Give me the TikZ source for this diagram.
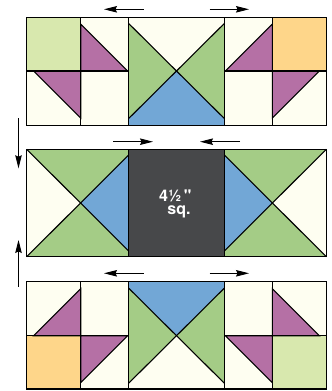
\documentclass[tikz,border=0pt]{standalone}
\usepackage{fontspec}
\setmainfont{TeX Gyre Heros}
\usetikzlibrary{arrows.meta}
\definecolor{cream}{HTML}{FEFEF1}
\definecolor{lightgreen}{HTML}{D8E8AE}
\definecolor{leafgreen}{HTML}{A4CC86}
\definecolor{skyblue}{HTML}{72A7D6}
\definecolor{plum}{HTML}{B570A5}
\definecolor{apricot}{HTML}{FED68A}
\definecolor{charcoal}{HTML}{47484A}
\begin{document}
\begin{tikzpicture}[x=1pt,y=-1pt,line join=miter,
  seam/.style={draw=black,line width=1.1pt},
  patch/.style={fill=#1},
  movearrow/.style={-{Stealth[length=13pt,width=6.5pt,inset=1.5pt]},line width=0.9pt},
  sizetext/.style={text=white,font=\fontsize{16}{16}\selectfont\bfseries,inner sep=0pt,anchor=base}]
\useasboundingbox (0,0) rectangle (332,391);

% ================= TOP BLOCK =================
\fill[cream] (26.7,17.3) rectangle (326.3,125.7);
\fill[lightgreen] (26.7,17.3) rectangle (80.7,71);
\fill[apricot] (272.3,17.3) rectangle (326.3,71);
\filldraw[patch=plum,seam] (33.7,71) -- (80.7,71) -- (80.7,118) -- cycle;
\filldraw[patch=plum,seam] (80.7,24) -- (80.7,71) -- (127.7,71) -- cycle;
\filldraw[patch=plum,seam] (272.3,24) -- (272.3,71) -- (225.3,71) -- cycle;
\filldraw[patch=plum,seam] (272.3,71) -- (319.3,71) -- (272.3,118) -- cycle;
\fill[leafgreen] (128.7,23.5) -- (176.5,71) -- (128.7,118.5) -- cycle;
\fill[leafgreen] (224.3,23.5) -- (176.5,71) -- (224.3,118.5) -- cycle;
\fill[skyblue] (128.7,118.5) -- (176.5,71) -- (224.3,118.5) -- (224.3,125.7) -- (128.7,125.7) -- cycle;
\draw[seam] (128.7,23.5) -- (224.3,118.5);
\draw[seam] (224.3,23.5) -- (128.7,118.5);
\draw[seam] (26.7,17.3) rectangle (326.3,125.7);
\draw[seam] (80.7,17.3) -- (80.7,125.7);
\draw[seam] (128.7,17.3) -- (128.7,125.7);
\draw[seam] (224.3,17.3) -- (224.3,125.7);
\draw[seam] (272.3,17.3) -- (272.3,125.7);
\draw[seam] (26.7,71) -- (128.7,71);
\draw[seam] (224.3,71) -- (326.3,71);

% ================= MIDDLE BLOCK =================
\fill[cream] (26.7,149.3) rectangle (326.3,256.7);
\fill[leafgreen] (26.7,149.3) -- (128.7,149.3) -- (128.7,155) -- (80.4,203) -- cycle;
\fill[leafgreen] (26.7,256.7) -- (80.4,203) -- (128.7,251) -- (128.7,256.7) -- cycle;
\fill[skyblue] (128.7,155) -- (80.4,203) -- (128.7,251) -- cycle;
\fill[leafgreen] (326.3,149.3) -- (224.3,149.3) -- (224.3,155) -- (272.6,203) -- cycle;
\fill[leafgreen] (326.3,256.7) -- (272.6,203) -- (224.3,251) -- (224.3,256.7) -- cycle;
\fill[skyblue] (224.3,155) -- (272.6,203) -- (224.3,251) -- cycle;
\draw[seam] (26.7,149.3) -- (128.7,251);
\draw[seam] (26.7,256.7) -- (128.7,155);
\draw[seam] (326.3,149.3) -- (224.3,251);
\draw[seam] (326.3,256.7) -- (224.3,155);
\fill[charcoal] (128.7,149.3) rectangle (224.3,256.7);
\draw[seam] (26.7,149.3) rectangle (326.3,256.7);
\draw[seam] (128.7,149.3) -- (128.7,256.7);
\draw[seam] (224.3,149.3) -- (224.3,256.7);
\node[sizetext] (size) at (175.3,201.8) {4½\kern2.5pt\textquotedbl};
\node[sizetext] (sq) at (179,214.4) {sq.};

% ================= BOTTOM BLOCK =================
\fill[cream] (26.7,281.7) rectangle (326.3,389);
\fill[apricot] (26.7,335.7) rectangle (80.7,389);
\fill[lightgreen] (272.3,335.7) rectangle (326.3,389);
\filldraw[patch=plum,seam] (33.7,335.7) -- (80.7,335.7) -- (80.7,288.7) -- cycle;
\filldraw[patch=plum,seam] (80.7,335.7) -- (127.7,335.7) -- (80.7,382.7) -- cycle;
\filldraw[patch=plum,seam] (225.3,335.7) -- (272.3,335.7) -- (272.3,382.7) -- cycle;
\filldraw[patch=plum,seam] (272.3,288.7) -- (272.3,335.7) -- (319.3,335.7) -- cycle;
\fill[skyblue] (128.7,281.7) -- (224.3,281.7) -- (224.3,288.2) -- (176.5,335.7) -- (128.7,288.2) -- cycle;
\fill[leafgreen] (128.7,288.2) -- (176.5,335.7) -- (128.7,383.2) -- cycle;
\fill[leafgreen] (224.3,288.2) -- (176.5,335.7) -- (224.3,383.2) -- cycle;
\draw[seam] (128.7,288.2) -- (224.3,383.2);
\draw[seam] (224.3,288.2) -- (128.7,383.2);
\draw[seam] (26.7,281.7) rectangle (326.3,389);
\draw[seam] (80.7,281.7) -- (80.7,389);
\draw[seam] (128.7,281.7) -- (128.7,389);
\draw[seam] (224.3,281.7) -- (224.3,389);
\draw[seam] (272.3,281.7) -- (272.3,389);
\draw[seam] (26.7,335.7) -- (128.7,335.7);
\draw[seam] (224.3,335.7) -- (326.3,335.7);

% ================= ARROWS =================
\coordinate (tlA) at (143.5,9.3);  \coordinate (tlB) at (104,9.3);
\coordinate (trA) at (209.5,9.3);  \coordinate (trB) at (249,9.3);
\coordinate (mlA) at (113,141.7);  \coordinate (mlB) at (153,141.7);
\coordinate (mrA) at (240,141.7);  \coordinate (mrB) at (200,141.7);
\coordinate (blA) at (143.5,273.3); \coordinate (blB) at (104,273.3);
\coordinate (brA) at (209.5,273.3); \coordinate (brB) at (249,273.3);
\coordinate (vdA) at (18.5,118.3); \coordinate (vdB) at (18.5,168.3);
\coordinate (vuA) at (18.5,286.7); \coordinate (vuB) at (18.5,240);
\draw[movearrow] (tlA) -- (tlB);
\draw[movearrow] (trA) -- (trB);
\draw[movearrow] (mlA) -- (mlB);
\draw[movearrow] (mrA) -- (mrB);
\draw[movearrow] (blA) -- (blB);
\draw[movearrow] (brA) -- (brB);
\draw[movearrow] (vdA) -- (vdB);
\draw[movearrow] (vuA) -- (vuB);
\end{tikzpicture}
\end{document}
